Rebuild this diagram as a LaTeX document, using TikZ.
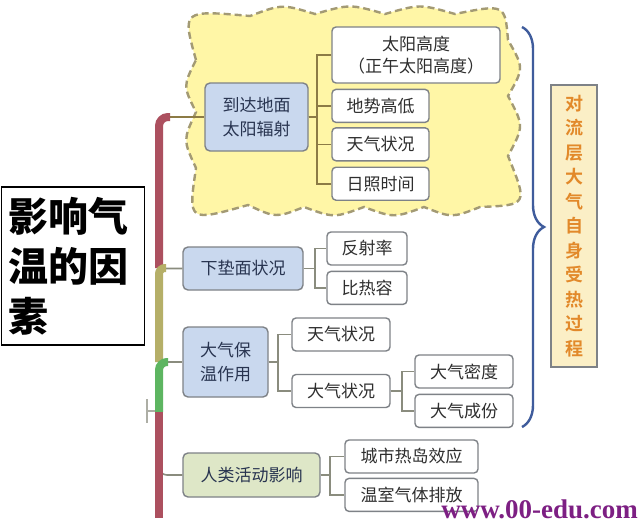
\documentclass[tikz,border=0pt]{standalone}
\usepackage{fontspec}
\setmainfont{Liberation Serif}
\newfontfamily\cjk{Noto Sans CJK SC}
\IfFontExistsTF{Noto Sans CJK SC Bold}
  {\newfontfamily\cjkbold{Noto Sans CJK SC Bold}}
  {\newfontfamily\cjkbold{Noto Sans CJK SC}[FakeBold=1.2]}
\IfFontExistsTF{Noto Sans CJK SC Black}
  {\newfontfamily\cjkheavy{Noto Sans CJK SC Black}}
  {\newfontfamily\cjkheavy{Noto Sans CJK SC Bold}}
\usetikzlibrary{positioning}
\usetikzlibrary{decorations.pathreplacing}

\definecolor{topicblue}{HTML}{C9D8EE}
\definecolor{topicgreen}{HTML}{DEE7C7}
\definecolor{topictext}{HTML}{283450}
\definecolor{leaftext}{HTML}{2E2E2E}
\definecolor{edgegray}{HTML}{7E8287}
\definecolor{linkgray}{HTML}{8A8C7E}
\definecolor{linkbrown}{HTML}{8C7B45}
\definecolor{cloudfill}{HTML}{FFF6A6}
\definecolor{clouddash}{HTML}{A39A74}
\definecolor{trunkred}{HTML}{AC505F}
\definecolor{trunkolive}{HTML}{B5AF68}
\definecolor{trunkgreen}{HTML}{5DB561}
\definecolor{braceblue}{HTML}{3F5C9C}
\definecolor{procfill}{HTML}{FBEFC6}
\definecolor{proctext}{HTML}{E2892A}
\definecolor{markpurple}{HTML}{7D1F83}

\tikzset{
  topic/.style={draw=edgegray, line width=1.4pt, rounded corners=5pt, inner sep=0pt, align=center, text=topictext, font=\cjk\fontsize{17}{24}\selectfont},
  leaf/.style={draw=edgegray, fill=white, line width=1.4pt, rounded corners=4pt, inner sep=0pt, align=center, minimum height=33pt, text=leaftext, font=\cjk\fontsize{17}{22}\selectfont},
  link/.style={draw=linkgray, line width=1.6pt},
  trunk/.style={line width=8pt},
}

\begin{document}
\begin{tikzpicture}[x=1pt,y=-1pt]
\useasboundingbox[fill=white] (0,0) rectangle (640,525);

% cloud behind the radiation group
\draw[fill=cloudfill, draw=clouddash, line width=2.4pt, dash pattern=on 7pt off 4pt]
  (196,60) .. controls (182,10) .. (250,16)
  .. controls (282,4) .. (315,14)
  .. controls (350,4) .. (385,14)
  .. controls (420,4) .. (455,14)
  .. controls (505,4) .. (508,40)
  .. controls (524,68) .. (508,96)
  .. controls (524,126) .. (508,156)
  .. controls (528,205) .. (480,207)
  .. controls (452,218) .. (424,207)
  .. controls (394,218) .. (364,207)
  .. controls (334,218) .. (304,207)
  .. controls (276,218) .. (248,205)
  .. controls (188,222) .. (196,168)
  .. controls (183,140) .. (196,112)
  .. controls (183,86) .. (196,60) -- cycle;

% root
\node[draw=black, line width=1.8pt, minimum width=143pt, minimum height=158pt, text width=128pt, align=left, inner sep=0pt, font=\cjkheavy\fontsize{40}{50}\selectfont] (root) at (73,266) {影响气\\温的因\\素};

% first level
\node[topic, fill=topicblue, minimum width=103pt, minimum height=68pt] (rad) at (256.5,117) {到达地面\\太阳辐射};
\node[topic, fill=topicblue, minimum width=120pt, minimum height=43pt] (surf) at (243,268.5) {下垫面状况};
\node[topic, fill=topicblue, minimum width=85pt, minimum height=70pt] (keep) at (225.5,362) {大气保\\温作用};
\node[topic, fill=topicgreen, minimum width=137pt, minimum height=44pt] (human) at (251.5,475) {人类活动影响};

% second level
\node[leaf, minimum width=168pt, minimum height=56pt] (sun) at (416,55) {太阳高度\\（正午太阳高度）};
\node[leaf, minimum width=97pt, below=5pt of sun.south west, anchor=north west] (relief) {地势高低};
\node[leaf, minimum width=97pt, below=4pt of relief] (weatherA) {天气状况};
\node[leaf, minimum width=97pt, below=5pt of weatherA] (sunshine) {日照时间};

\node[leaf, minimum width=80pt] (refl) at (367,248.5) {反射率};
\node[leaf, minimum width=80pt, below=5pt of refl] (heatcap) {比热容};

\node[leaf, minimum width=98pt] (weatherB) at (341,334.5) {天气状况};
\node[leaf, minimum width=98pt] (atmos) at (341,391) {大气状况};
\node[leaf, minimum width=98pt] (dens) at (464,371.5) {大气密度};
\node[leaf, minimum width=98pt, below=5pt of dens] (comp) {大气成份};

\node[leaf, minimum width=133pt] (island) at (411.5,456.5) {城市热岛效应};
\node[leaf, minimum width=133pt, below=4pt of island] (gas) {温室气体排放};

% elbows
\foreach \leafname in {sun,relief,weatherA,sunshine}
  \draw[link, linkbrown] (rad.east) -- ++(8,0) |- (\leafname.west);
\foreach \leafname in {refl,heatcap}
  \draw[link] (surf.east) -- ++(11,0) |- (\leafname.west);
\foreach \leafname in {weatherB,atmos}
  \draw[link] (keep.east) -- ++(9,0) |- (\leafname.west);
\foreach \leafname in {dens,comp}
  \draw[link] (atmos.east) -- ++(11,0) |- (\leafname.west);
\foreach \leafname in {island,gas}
  \draw[link] (human.east) -- ++(9,0) |- (\leafname.west);

% branches off the trunk
\coordinate (radfoot) at (166,117);
\coordinate (surffoot) at (159,258);
\coordinate (keepfoot) at (166,362);
\coordinate (humanfoot) at (159,462);
\draw[link, linkbrown] (radfoot) -- (rad.west);
\draw[link, rounded corners=6pt] (surffoot) |- (surf.west);
\draw[link] (keepfoot) -- (keep.west);
\draw[link, rounded corners=8pt] (humanfoot) |- (human.west);

% trunk
\draw[trunk, trunkred, rounded corners=9pt] (159,268) |- (170,117);
\draw[trunk, trunkolive, rounded corners=6pt] (159,362) |- (166,268);
\draw[trunk, trunkgreen, rounded corners=8pt] (159,412) |- (168,362);
\draw[trunk, trunkred] (159,412) -- (159,518);

% small tick left of trunk
\coordinate (tickfoot) at (147,411);
\draw[linkgray!70, line width=1.4pt] (147,399) -- (147,423);
\draw[linkgray!70, line width=1.4pt] (tickfoot) -- (155,411);

% brace and side label
\coordinate (bracetop) at (522,27);
\coordinate (bracebot) at (522,427);
\draw[braceblue, line width=2.4pt, decorate, decoration={brace, amplitude=22pt}] (bracetop) -- (bracebot);
\node[draw=edgegray, fill=procfill, line width=1.6pt, minimum width=46pt, minimum height=282pt, text width=20pt, align=center, inner sep=0pt, text=proctext, font=\cjkbold\fontsize{18}{24.5}\selectfont] (proc) at (574,226) {对\\流\\层\\大\\气\\自\\身\\受\\热\\过\\程};

% watermark
\node[anchor=base east, text=markpurple, font=\bfseries\fontsize{27}{27}\selectfont, inner sep=0pt] (mark) at (638,518) {www.00-edu.com};
\end{tikzpicture}
\end{document}
